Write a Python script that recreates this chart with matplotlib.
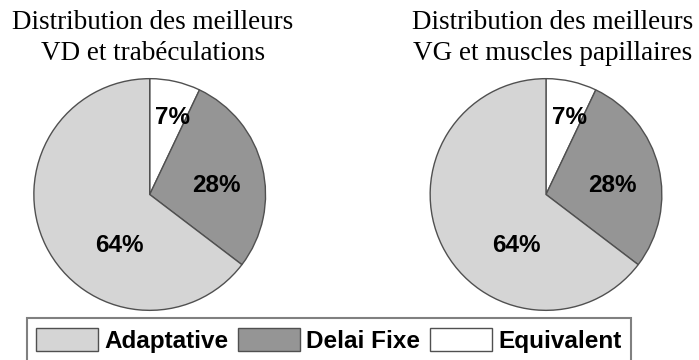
import numpy as np
import matplotlib
matplotlib.use("Agg")
from matplotlib import pyplot as plt

# slice order: counter-clockwise from the top, drawn clockwise
categories = ["Equivalent", "Delai Fixe", "Adaptative"]
vd_values = [7, 28, 64]
vg_values = [7, 28, 64]
titles = ["Distribution des meilleurs\nVD et trabéculations",
          "Distribution des meilleurs\nVG et muscles papillaires"]
legend_order = ["Adaptative", "Delai Fixe", "Equivalent"]

colors = {"Equivalent": "#ffffff", "Delai Fixe": "#959595", "Adaptative": "#d5d5d5"}
edge = "#505050"

# label placement relative to each wedge: (radius fraction, angle shift in degrees)
label_pos = {"Equivalent": (0.69, -4), "Delai Fixe": (0.58, -6), "Adaptative": (0.51, 33)}

W, H = 699, 360
fig = plt.figure(figsize=(W / 100, H / 100), dpi=100)

def draw_pie(ax, values):
    wedges, _ = ax.pie(values, colors=[colors[c] for c in categories],
                       startangle=90, counterclock=False,
                       wedgeprops=dict(edgecolor=edge, linewidth=1.0))
    for w, c, v in zip(wedges, categories, values):
        r, shift = label_pos[c]
        ang = np.deg2rad((w.theta1 + w.theta2) / 2 + shift)
        ax.text(r * np.cos(ang), r * np.sin(ang), f"{v}%",
                ha="center", va="center", fontsize=17.5, fontweight="bold",
                family="Liberation Sans")
    ax.set_xlim(-1.01, 1.01)
    ax.set_ylim(-1.01, 1.01)
    ax.set_aspect("equal")
    return wedges

size = 234
ax1 = fig.add_axes([(149.7 - size / 2) / W, (H - 194.5 - size / 2) / H, size / W, size / H])
ax2 = fig.add_axes([(546 - size / 2) / W, (H - 194.5 - size / 2) / H, size / W, size / H])
wedges = draw_pie(ax1, vd_values)
draw_pie(ax2, vg_values)

for x, t in zip([153, 553], titles):
    fig.text(x / W, 1 - 10 / H, t, ha="center", va="top", fontsize=19.5,
             family="Liberation Serif", linespacing=1.3)

handles = [wedges[categories.index(c)] for c in legend_order]
leg = fig.legend(handles, legend_order, loc="upper left",
                 bbox_to_anchor=(26.7 / W, 1 - 318 / H), ncol=3,
                 prop=dict(family="Liberation Sans", weight="bold", size=17.5),
                 handlelength=2.55, handleheight=1.1, handletextpad=0.25,
                 columnspacing=0.4, borderpad=0.4, borderaxespad=0,
                 fancybox=False, frameon=True)
leg.get_frame().set_edgecolor("#606060")
leg.get_frame().set_linewidth(1.5)

fig.savefig("out.png", dpi=100)
